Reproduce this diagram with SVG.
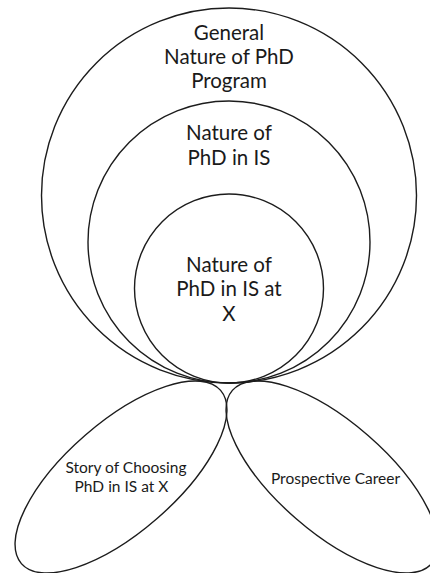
<svg xmlns="http://www.w3.org/2000/svg" width="430" height="573" viewBox="0 0 430 573">
  <style>
    .shape { fill: none; stroke: #1c1c1c; stroke-width: 1.4; }
    .big { font-family: Lato, "Open Sans", "Liberation Sans", sans-serif; font-size: 20.5px; fill: #1a1a1a; text-anchor: middle; }
    .small { font-family: Lato, "Open Sans", "Liberation Sans", sans-serif; font-size: 15.5px; fill: #1a1a1a; text-anchor: middle; }
  </style>
  <rect x="0" y="0" width="430" height="573" fill="#ffffff"/>

  <!-- nested circles, all touching at the bottom point (229, 383) -->
  <g id="general-nature">
    <circle class="shape" cx="229" cy="195.5" r="187.5"/>
    <text class="big" x="229" y="39.5">General</text>
    <text class="big" x="229" y="63.5">Nature of PhD</text>
    <text class="big" x="229" y="87.5">Program</text>
  </g>

  <g id="nature-is">
    <circle class="shape" cx="229" cy="242" r="141"/>
    <text class="big" x="229" y="140">Nature of</text>
    <text class="big" x="229" y="164.5">PhD in IS</text>
  </g>

  <g id="nature-is-x">
    <circle class="shape" cx="229" cy="288.5" r="94.5"/>
    <text class="big" x="229" y="271.5">Nature of</text>
    <text class="big" x="229" y="296">PhD in IS at</text>
    <text class="big" x="229" y="320.5">X</text>
  </g>

  <!-- two tilted ellipses hanging below the circles -->
  <g id="story">
    <ellipse class="shape" cx="121" cy="477" rx="132" ry="55" transform="rotate(-41 121 477)"/>
    <text class="small" x="126" y="472.5">Story of Choosing</text>
    <text class="small" x="121.5" y="491.5">PhD in IS at X</text>
  </g>

  <g id="career">
    <ellipse class="shape" cx="332" cy="477" rx="132" ry="55" transform="rotate(41 332 477)"/>
    <text class="small" x="335.5" y="484">Prospective Career</text>
  </g>
</svg>
